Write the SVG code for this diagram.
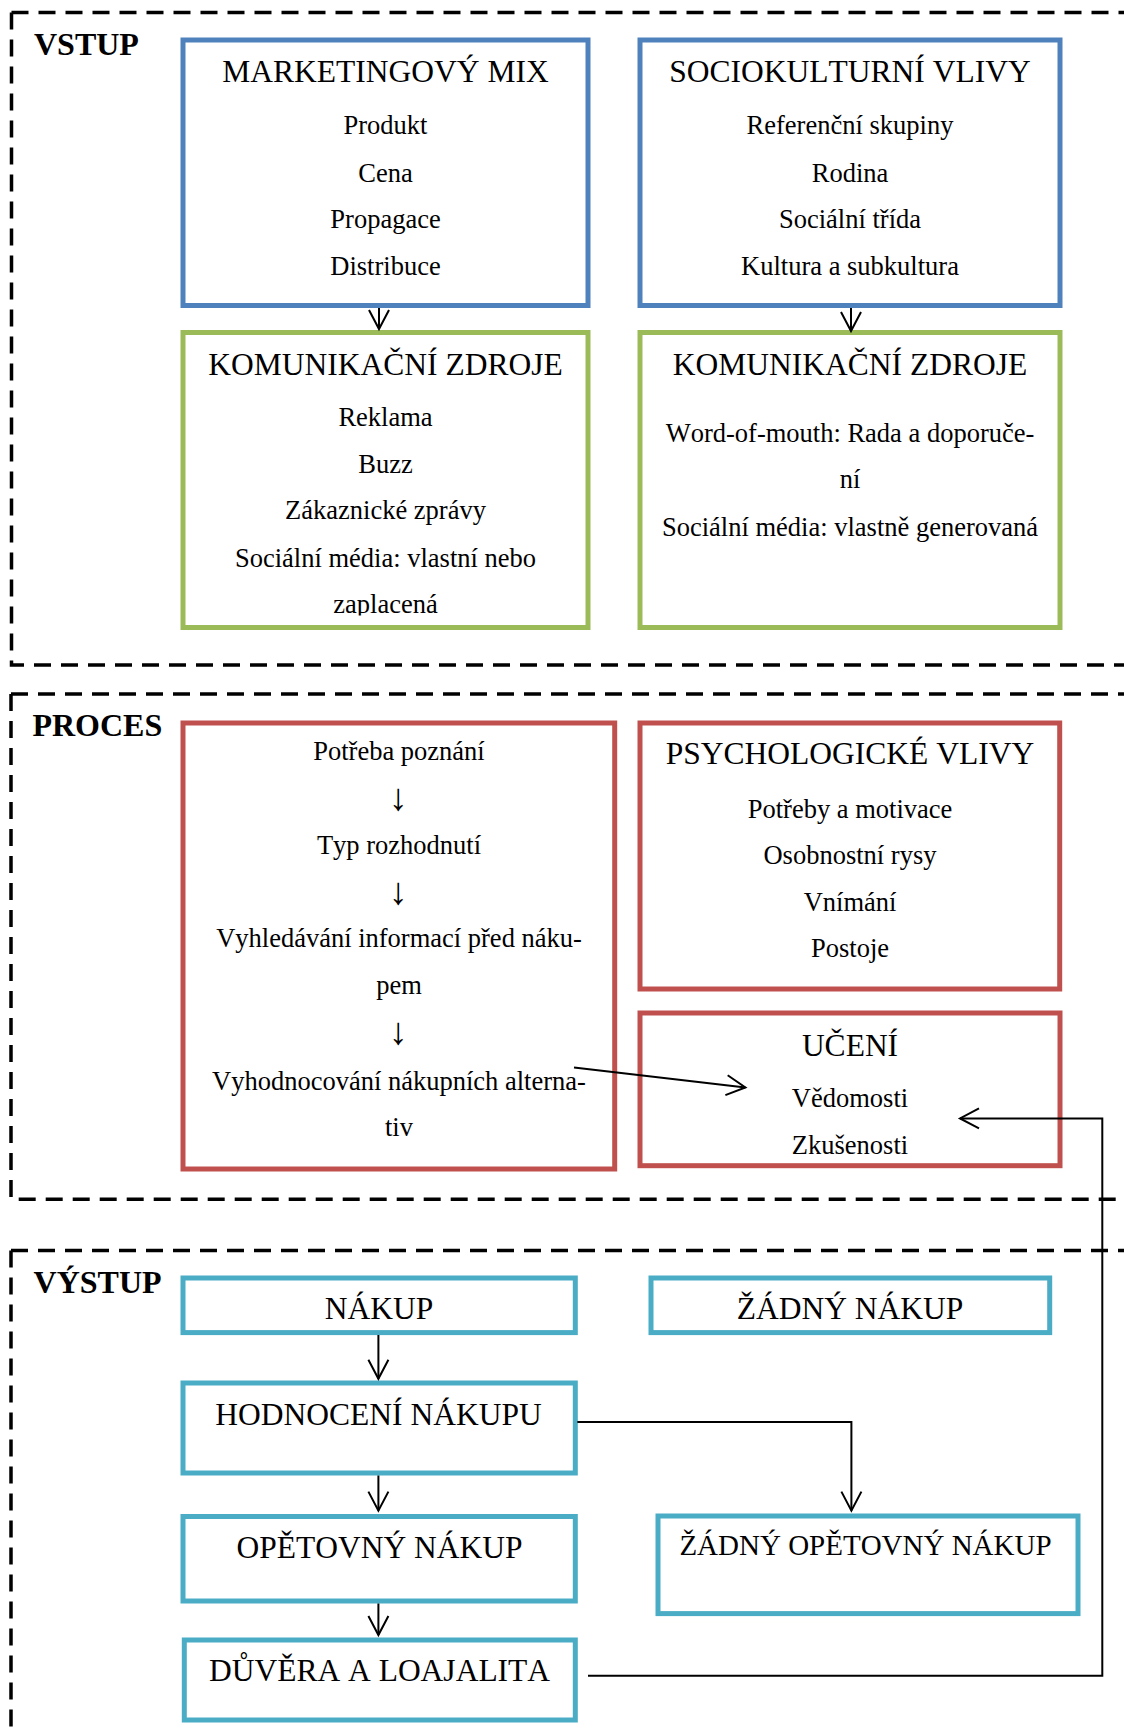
<svg xmlns="http://www.w3.org/2000/svg" width="1124" height="1734" viewBox="0 0 1124 1734">
<style>
text{font-family:"Liberation Serif","Times New Roman",serif;fill:#000;text-anchor:middle;font-kerning:none}
.lbl{font-size:32px;font-weight:bold;text-anchor:start}
.t{font-size:31.5px}
.t2{font-size:29px}
.i{font-size:26.5px}
.ar{font-size:38px}
.box{fill:none;stroke-width:5}
.blue{stroke:#4F81BD}
.green{stroke:#9BBB59}
.red{stroke:#C0504D}
.cyan{stroke:#4BACC6}
.grp{fill:none;stroke:#000;stroke-width:3.5;stroke-dasharray:17 10}
.con{fill:none;stroke:#000;stroke-width:2}
</style>
<defs>
<marker id="ah" viewBox="-21 -12 24 24" markerWidth="24" markerHeight="24" refX="0" refY="0" orient="auto" markerUnits="userSpaceOnUse">
<path d="M-19,-10 L0,0 L-19,10" fill="none" stroke="#000" stroke-width="2"/>
</marker>
<clipPath id="clipG1"><rect x="185" y="335" width="400" height="280.5"/></clipPath>
</defs>
<rect width="1124" height="1734" fill="#fff"/>

<g id="groups">
<path class="grp" d="M11.5,12.5 H1130"/>
<path class="grp" d="M11.5,12.5 V665 H1130"/>
<path class="grp" d="M11,694 H1130"/>
<path class="grp" d="M11,694 V1199.3 H1130"/>
<path class="grp" d="M11,1250.5 H1130"/>
<path class="grp" d="M11,1250.5 V1745"/>
<text class="lbl" x="34" y="55">VSTUP</text>
<text class="lbl" x="32.4" y="736">PROCES</text>
<text class="lbl" x="33.6" y="1292.6">VÝSTUP</text>
</g>

<g id="marketingovy-mix">
<rect class="box blue" x="183" y="40" width="405" height="265.5"/>
<text class="t" x="385.5" y="81.7">MARKETINGOVÝ MIX</text>
<text class="i" x="385.5" y="134">Produkt</text>
<text class="i" x="385.5" y="181.5">Cena</text>
<text class="i" x="385.5" y="228">Propagace</text>
<text class="i" x="385.5" y="275">Distribuce</text>
</g>

<g id="sociokulturni-vlivy">
<rect class="box blue" x="640" y="40" width="420" height="265.5"/>
<text class="t" x="850" y="81.7">SOCIOKULTURNÍ VLIVY</text>
<text class="i" x="850" y="134">Referenční skupiny</text>
<text class="i" x="850" y="181.5">Rodina</text>
<text class="i" x="850" y="228">Sociální třída</text>
<text class="i" x="850" y="275">Kultura a subkultura</text>
</g>

<g id="komunikacni-zdroje-1">
<rect class="box green" x="183" y="332.5" width="405" height="295"/>
<text class="t" x="385.5" y="375">KOMUNIKAČNÍ ZDROJE</text>
<text class="i" x="385.5" y="426">Reklama</text>
<text class="i" x="385.5" y="472.7">Buzz</text>
<text class="i" x="385.5" y="519.3">Zákaznické zprávy</text>
<text class="i" x="385.5" y="566.7">Sociální média: vlastní nebo</text>
<text class="i" x="385.5" y="613.3" clip-path="url(#clipG1)">zaplacená</text>
</g>

<g id="komunikacni-zdroje-2">
<rect class="box green" x="640" y="332.5" width="420" height="295"/>
<text class="t" x="850" y="375">KOMUNIKAČNÍ ZDROJE</text>
<text class="i" x="850" y="441.7">Word-of-mouth: Rada a doporuče-</text>
<text class="i" x="850" y="488.3">ní</text>
<text class="i" x="850" y="535.5">Sociální média: vlastně generovaná</text>
</g>

<g id="rozhodovaci-proces">
<rect class="box red" x="183" y="723" width="431.7" height="446"/>
<text class="i" x="399" y="760">Potřeba poznání</text>
<text class="ar" x="398" y="810">↓</text>
<text class="i" x="399" y="853.5">Typ rozhodnutí</text>
<text class="ar" x="398" y="903.5">↓</text>
<text class="i" x="399" y="947">Vyhledávání informací před náku-</text>
<text class="i" x="399" y="994">pem</text>
<text class="ar" x="398" y="1044">↓</text>
<text class="i" x="399" y="1089.5">Vyhodnocování nákupních alterna-</text>
<text class="i" x="399" y="1136">tiv</text>
</g>

<g id="psychologicke-vlivy">
<rect class="box red" x="640" y="723" width="419.7" height="266"/>
<text class="t" x="850" y="764.4">PSYCHOLOGICKÉ VLIVY</text>
<text class="i" x="850" y="817.7">Potřeby a motivace</text>
<text class="i" x="850" y="864.2">Osobnostní rysy</text>
<text class="i" x="850" y="910.7">Vnímání</text>
<text class="i" x="850" y="957.2">Postoje</text>
</g>

<g id="uceni">
<rect class="box red" x="640" y="1013" width="420" height="152.7"/>
<text class="t" x="850" y="1056.4">UČENÍ</text>
<text class="i" x="850" y="1107">Vědomosti</text>
<text class="i" x="850" y="1154.2">Zkušenosti</text>
</g>

<g id="nakup">
<rect class="box cyan" x="183" y="1278" width="392.3" height="54.6"/>
<text class="t" x="379" y="1319.2">NÁKUP</text>
</g>

<g id="zadny-nakup">
<rect class="box cyan" x="651" y="1278" width="398.7" height="54.6"/>
<text class="t" x="850" y="1319.2">ŽÁDNÝ NÁKUP</text>
</g>

<g id="hodnoceni-nakupu">
<rect class="box cyan" x="183" y="1383" width="392.3" height="90"/>
<text class="t" x="378.5" y="1424.8">HODNOCENÍ NÁKUPU</text>
</g>

<g id="opetovny-nakup">
<rect class="box cyan" x="183" y="1516.5" width="392.3" height="84.5"/>
<text class="t" x="379.5" y="1558.3">OPĚTOVNÝ NÁKUP</text>
</g>

<g id="zadny-opetovny-nakup">
<rect class="box cyan" x="658" y="1516" width="420" height="97.6"/>
<text class="t2" x="865.5" y="1555">ŽÁDNÝ OPĚTOVNÝ NÁKUP</text>
</g>

<g id="duvera-a-loajalita">
<rect class="box cyan" x="184.3" y="1640" width="391" height="80"/>
<text class="t" x="379.5" y="1681.3">DŮVĚRA A LOAJALITA</text>
</g>

<g id="connectors">
<path class="con" d="M379,308 V329" marker-end="url(#ah)"/>
<path class="con" d="M851,308 V331" marker-end="url(#ah)"/>
<path class="con" d="M574,1067.4 L745.4,1087.4" marker-end="url(#ah)"/>
<path class="con" d="M588,1675.8 H1102.3 V1118.4 H960" marker-end="url(#ah)"/>
<path class="con" d="M378.4,1335 V1378.8" marker-end="url(#ah)"/>
<path class="con" d="M577.3,1422 H851.4 V1510.6" marker-end="url(#ah)"/>
<path class="con" d="M378.4,1475.5 V1510.6" marker-end="url(#ah)"/>
<path class="con" d="M378.4,1603.5 V1635" marker-end="url(#ah)"/>
</g>
</svg>
